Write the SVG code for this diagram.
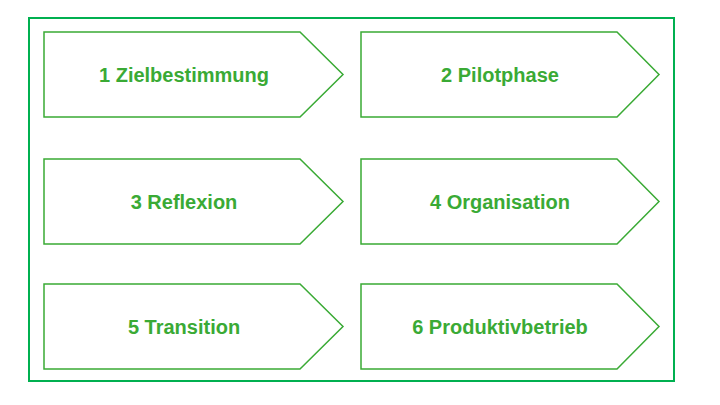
<svg xmlns="http://www.w3.org/2000/svg" width="720" height="405" viewBox="0 0 720 405">
<style>
.a{fill:#fff;stroke:#3aaa35;stroke-width:1.5}
.t{font-family:"Liberation Sans",Arial,sans-serif;font-weight:bold;font-size:20px;fill:#3aaa35;text-anchor:middle;dominant-baseline:central}
</style>
<rect width="720" height="405" fill="#fff"/>
<rect x="29" y="18" width="645" height="363" fill="none" stroke="#00b050" stroke-width="2"/>
<g id="n1"><path class="a" d="M44 32H300L343 74.5L300 117H44Z"/><text class="t" x="184" y="75">1 Zielbestimmung</text></g>
<g id="n2"><path class="a" d="M361 32H617L659 74.5L617 117H361Z"/><text class="t" x="500" y="75">2 Pilotphase</text></g>
<g id="n3"><path class="a" d="M44 159H300L343 201.5L300 244H44Z"/><text class="t" x="184" y="202">3 Reflexion</text></g>
<g id="n4"><path class="a" d="M361 159H617L659 201.5L617 244H361Z"/><text class="t" x="500" y="202">4 Organisation</text></g>
<g id="n5"><path class="a" d="M44 284H300L343 326.5L300 369H44Z"/><text class="t" x="184" y="327">5 Transition</text></g>
<g id="n6"><path class="a" d="M361 284H617L659 326.5L617 369H361Z"/><text class="t" x="500" y="327">6 Produktivbetrieb</text></g>
<g id="connectors"/>
</svg>
